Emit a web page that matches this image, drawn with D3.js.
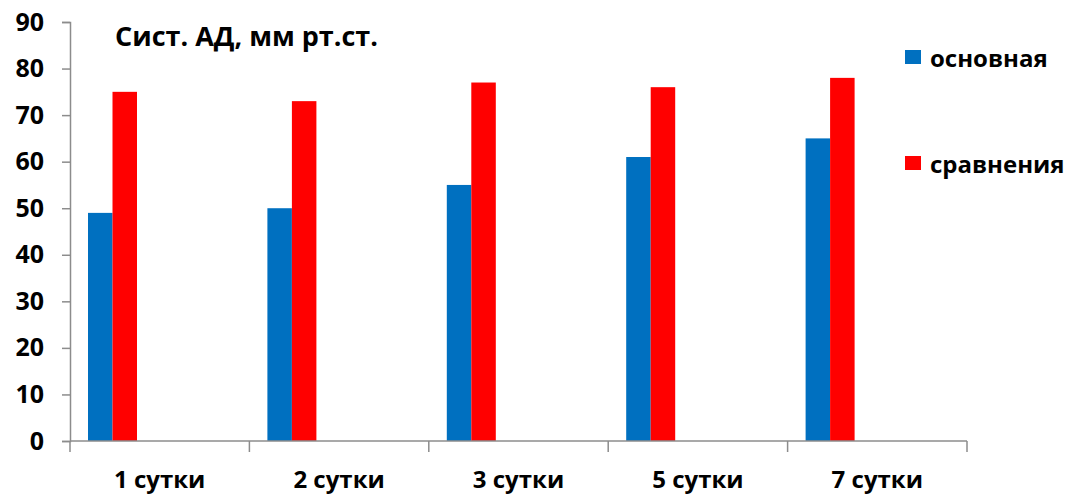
<!DOCTYPE html>
<html>
<head>
<meta charset="utf-8">
<script src="https://cdn.jsdelivr.net/npm/d3@7"></script>
<style>
  html, body { margin: 0; padding: 0; background: #fff; }
  svg text { font-family: "Open Sans", Lato, sans-serif; font-weight: bold; fill: #000; }
</style>
</head>
<body>
<svg id="chart" width="1071" height="495"></svg>
<script>
// Systolic blood pressure by day, two patient groups
const categories = ["1 сутки", "2 сутки", "3 сутки", "5 сутки", "7 сутки"];
const seriesNames = ["основная", "сравнения"];
const mainGroup = [49, 50, 55, 61, 65];
const comparisonGroup = [75, 73, 77, 76, 78];
const yTicks = [0, 10, 20, 30, 40, 50, 60, 70, 80, 90];
const colors = ["#0070C0", "#FF0000"];
const title = "Сист. АД, мм рт.ст.";

const svg = d3.select("#chart");
const plot = { left: 70, right: 967, top: 22, bottom: 441 };

const x = d3.scaleBand().domain(categories).range([plot.left, plot.right]).paddingInner(0).paddingOuter(0);
const y = d3.scaleLinear().domain([0, 90]).range([plot.bottom, plot.top]);

// Bars sit in six equal slots of each category after a half-gap on the left
const barW = x.bandwidth() * 24.5 / 179.4;
const lead = x.bandwidth() * 18 / 179.4;

const series = [mainGroup, comparisonGroup];
series.forEach((vals, si) => {
  svg.append("g").selectAll("rect")
    .data(vals)
    .join("rect")
    .attr("x", (d, i) => x(categories[i]) + lead + si * barW)
    .attr("y", d => y(d))
    .attr("width", barW)
    .attr("height", d => y(0) - y(d))
    .attr("fill", colors[si]);
});

// Y axis
const yAxis = svg.append("g")
  .attr("transform", `translate(${plot.left},0)`)
  .call(d3.axisLeft(y).tickValues(yTicks).tickSize(8).tickPadding(18));
yAxis.select(".domain").attr("stroke", "#8c8c8c").attr("stroke-width", 1.5);
yAxis.selectAll(".tick line").attr("stroke", "#8c8c8c").attr("stroke-width", 1.5);
yAxis.selectAll(".tick text").style("font-size", "25px").attr("fill", "#000");

// X axis with tick marks on category boundaries
const xAxis = svg.append("g")
  .attr("transform", `translate(0,${plot.bottom})`);
xAxis.append("line")
  .attr("x1", plot.left).attr("x2", plot.right)
  .attr("stroke", "#8c8c8c").attr("stroke-width", 1.5);
const bounds = categories.map(c => x(c)).concat([x(categories[categories.length - 1]) + x.bandwidth()]);
xAxis.selectAll("line.tk").data(bounds).join("line")
  .attr("class", "tk")
  .attr("x1", d => d).attr("x2", d => d)
  .attr("y1", 0).attr("y2", 11)
  .attr("stroke", "#8c8c8c").attr("stroke-width", 1.5);
xAxis.selectAll("text").data(categories).join("text")
  .attr("x", d => x(d) + x.bandwidth() / 2)
  .attr("y", 47)
  .attr("text-anchor", "middle")
  .style("font-size", "24px")
  .text(d => d);

// Title
svg.append("text")
  .attr("x", 115).attr("y", 46)
  .style("font-size", "27px")
  .text(title);

// Legend
const legendY = [57, 163];
seriesNames.forEach((name, i) => {
  const g = svg.append("g").attr("transform", `translate(905,${legendY[i]})`);
  g.append("rect").attr("x", 0).attr("y", -7).attr("width", 16).attr("height", 14).attr("fill", colors[i]);
  g.append("text").attr("x", 25).attr("y", 10).style("font-size", "24px").text(name);
});
</script>
</body>
</html>
